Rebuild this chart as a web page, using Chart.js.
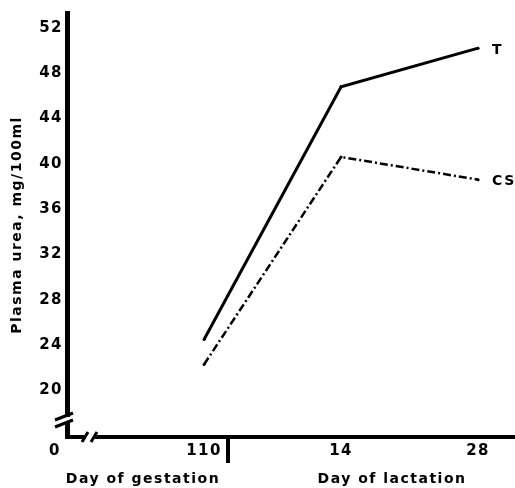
<!DOCTYPE html>
<html>
<head>
<meta charset="utf-8">
<script src="https://cdn.jsdelivr.net/npm/chart.js@4"></script>
<style>
  html, body { margin: 0; padding: 0; background: #fff; }
  #wrap { width: 515px; height: 488px; }
</style>
</head>
<body>
<div id="wrap"><canvas id="ureaChart"></canvas></div>
<script>
// sampling days: day 110 of gestation, day 14 and 28 of lactation
const dayLabels = ['110', '14', '28'];
const dayPos = [1, 2, 3];
const seriesT = [24.5, 46.8, 50.2];
const seriesCS = [22.3, 40.6, 38.6];
const yTicks = [20, 24, 28, 32, 36, 40, 44, 48, 52];

const FONT = 'DejaVu Sans';
const dividerPos = 1.175; // gestation / lactation separator

function toPoints(vals) {
    return dayPos.map(function(x, i) { return { x: x, y: vals[i] }; });
}

// letter spacing + axis breaks + end labels
const decorations = {
    id: 'decorations',
    beforeDraw: function(chart) {
        chart.ctx.letterSpacing = '1.5px';
    },
    afterDraw: function(chart) {
        const ctx = chart.ctx;
        const xs = chart.scales.x;
        const ys = chart.scales.y;
        const left = xs.left;
        const bottom = ys.bottom;
        ctx.save();
        ctx.letterSpacing = '1.5px';

        // x axis runs to the edge of the picture
        ctx.strokeStyle = '#000';
        ctx.lineWidth = 4;
        ctx.beginPath();
        ctx.moveTo(xs.right - 2, bottom);
        ctx.lineTo(chart.width, bottom);
        ctx.stroke();

        // break in the y axis
        ctx.fillStyle = '#fff';
        ctx.fillRect(left - 6, bottom - 20, 12, 6);
        ctx.lineWidth = 3;
        ctx.beginPath();
        ctx.moveTo(left - 12, bottom - 17);
        ctx.lineTo(left + 6, bottom - 24);
        ctx.moveTo(left - 12, bottom - 10);
        ctx.lineTo(left + 6, bottom - 17);
        ctx.stroke();

        // break in the x axis
        ctx.fillRect(left + 19, bottom - 5, 9, 10);
        ctx.beginPath();
        ctx.moveTo(left + 15, bottom + 5);
        ctx.lineTo(left + 21, bottom - 5);
        ctx.moveTo(left + 24, bottom + 5);
        ctx.lineTo(left + 30, bottom - 5);
        ctx.stroke();

        // separator tick between gestation and lactation
        const dx = xs.getPixelForValue(dividerPos);
        ctx.lineWidth = 4;
        ctx.beginPath();
        ctx.moveTo(dx, bottom);
        ctx.lineTo(dx, bottom + 26);
        ctx.stroke();

        ctx.fillStyle = '#000';
        ctx.font = 'bold 15px "' + FONT + '"';
        ctx.textBaseline = 'middle';
        ctx.textAlign = 'center';
        ctx.fillText('0', left - 12, bottom + 14);

        ctx.font = 'bold 14px "' + FONT + '"';
        ctx.fillText('Day of gestation', 143, bottom + 42);
        ctx.fillText('Day of lactation', 392, bottom + 42);

        // series names at the end of each line
        ctx.textAlign = 'left';
        const names = ['T', 'CS'];
        chart.data.datasets.forEach(function(ds, i) {
            const pts = chart.getDatasetMeta(i).data;
            const p = pts[pts.length - 1];
            ctx.fillText(names[i], p.x + 14, p.y + 2);
        });
        ctx.restore();
    }
};

const ctx = document.getElementById('ureaChart').getContext('2d');
new Chart(ctx, {
    type: 'line',
    data: {
        datasets: [{
            label: 'T',
            data: toPoints(seriesT),
            borderColor: '#000',
            borderWidth: 3,
            pointRadius: 1.5,
            pointBackgroundColor: '#000',
            pointBorderWidth: 0
        }, {
            label: 'CS',
            data: toPoints(seriesCS),
            borderColor: '#000',
            borderWidth: 2.5,
            borderDash: [8, 3, 2, 3],
            pointRadius: 1.5,
            pointBackgroundColor: '#000',
            pointBorderWidth: 0
        }]
    },
    options: {
        responsive: true,
        maintainAspectRatio: false,
        animation: false,
        layout: { padding: { top: 8, left: 2, right: 0, bottom: 0 } },
        plugins: {
            legend: { display: false },
            tooltip: { enabled: false }
        },
        scales: {
            x: {
                type: 'linear',
                min: 0,
                max: 3.24,
                afterBuildTicks: function(scale) {
                    scale.ticks = dayPos.map(function(v) { return { value: v }; });
                },
                afterFit: function(scale) { scale.height = 51; },
                grid: { drawOnChartArea: false, drawTicks: false },
                border: { color: '#000', width: 4 },
                ticks: {
                    color: '#000',
                    padding: 5,
                    maxRotation: 0,
                    font: { family: FONT, size: 15, weight: 'bold' },
                    callback: function(v) {
                        const i = dayPos.indexOf(v);
                        return i >= 0 ? dayLabels[i] : '';
                    }
                }
            },
            y: {
                min: 15.9,
                max: 53.3,
                afterBuildTicks: function(scale) {
                    scale.ticks = yTicks.map(function(v) { return { value: v }; });
                },
                afterFit: function(scale) { scale.width = 65; },
                grid: { drawOnChartArea: false, drawTicks: false },
                border: { color: '#000', width: 5 },
                ticks: {
                    color: '#000',
                    padding: 4,
                    font: { family: FONT, size: 15, weight: 'bold' }
                },
                title: {
                    display: true,
                    text: 'Plasma urea, mg/100ml',
                    color: '#000',
                    padding: { top: 7, bottom: 0 },
                    font: { family: FONT, size: 14, weight: 'bold' }
                }
            }
        }
    },
    plugins: [decorations]
});
</script>
</body>
</html>
